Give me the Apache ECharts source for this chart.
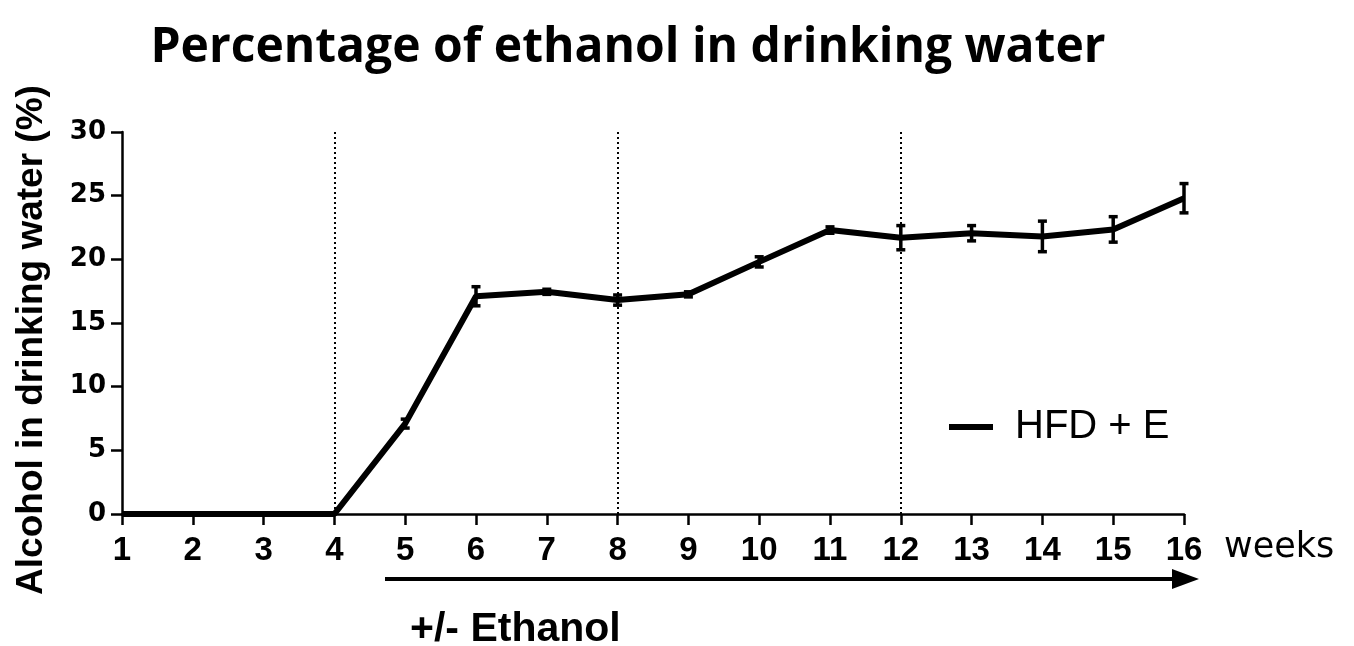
<!DOCTYPE html>
<html>
<head>
<meta charset="utf-8">
<title>Percentage of ethanol in drinking water</title>
<script src="https://cdn.jsdelivr.net/npm/echarts@6/dist/echarts.min.js"></script>
<style>
  html, body { margin: 0; padding: 0; background: #fff; }
  #chart { width: 1354px; height: 646px; }
</style>
</head>
<body>
<div id="chart"></div>
<script>
// weeks and measured alcohol % (mean with SEM)
const weeks = [1, 2, 3, 4, 5, 6, 7, 8, 9, 10, 11, 12, 13, 14, 15, 16]
const alcoholMean = [0, 0, 0, 0, 7.1, 17.1, 17.45, 16.8, 17.25, 19.8, 22.3, 21.7, 22.05, 21.8, 22.35, 24.8]
const alcoholSem = [0, 0, 0, 0, 0.35, 0.75, 0.2, 0.4, 0.2, 0.4, 0.25, 0.95, 0.6, 1.2, 1.0, 1.15]
const phaseWeeks = [4, 8, 12]
const seriesName = 'HFD + E'

const chart = echarts.init(document.getElementById('chart'))

const lineData = weeks.map((w, i) => [w, alcoholMean[i]])
const errData = weeks.map((w, i) => [w, alcoholMean[i] - alcoholSem[i], alcoholMean[i] + alcoholSem[i]])

const labelFont = 'Liberation Sans'

const option = {
  backgroundColor: '#fff',
  animation: false,
  title: {
    text: 'Percentage of ethanol in drinking water',
    left: 623,
    textAlign: 'center',
    top: 19,
    textStyle: {
      fontFamily: 'Open Sans',
      fontWeight: 'bold',
      fontSize: 48,
      color: '#000'
    }
  },
  grid: {
    left: 122,
    right: 170,
    top: 132,
    bottom: 132,
    outerBoundsMode: 'none'
  },
  legend: {
    left: 944,
    top: 402,
    itemWidth: 44,
    itemHeight: 6,
    icon: 'rect',
    data: [seriesName],
    textStyle: {
      fontFamily: labelFont,
      fontSize: 40,
      color: '#000',
      padding: [0, 0, 0, 17]
    }
  },
  xAxis: {
    type: 'value',
    min: 1,
    max: 16,
    interval: 1,
    name: 'weeks',
    nameLocation: 'end',
    nameGap: 40,
    nameTextStyle: {
      fontFamily: 'DejaVu Sans',
      fontSize: 35,
      color: '#000',
      verticalAlign: 'top',
      padding: [16, 0, 0, 0]
    },
    splitLine: { show: false },
    axisLine: { lineStyle: { color: '#000', width: 2.5 } },
    axisTick: { inside: false, length: 11, lineStyle: { color: '#000', width: 2.5 } },
    axisLabel: {
      margin: 20,
      fontFamily: labelFont,
      fontWeight: 'bold',
      fontSize: 33,
      color: '#000'
    }
  },
  yAxis: {
    type: 'value',
    min: 0,
    max: 30,
    interval: 5,
    name: 'Alcohol in drinking water (%)',
    nameLocation: 'middle',
    nameGap: 72,
    nameTextStyle: {
      fontFamily: labelFont,
      fontWeight: 'bold',
      fontSize: 37,
      color: '#000',
      padding: [0, 34, 0, 0]
    },
    splitLine: { show: false },
    axisLine: { show: true, lineStyle: { color: '#000', width: 2.5 } },
    axisTick: { show: true, inside: false, length: 11, lineStyle: { color: '#000', width: 2.5 } },
    axisLabel: {
      margin: 16,
      fontFamily: 'DejaVu Sans',
      fontWeight: 'bold',
      fontSize: 26,
      color: '#000'
    }
  },
  graphic: [
    {
      type: 'line',
      shape: { x1: 385, y1: 579, x2: 1180, y2: 579 },
      style: { stroke: '#000', lineWidth: 4 }
    },
    {
      type: 'polygon',
      shape: { points: [[1172, 569], [1199, 579], [1172, 589]] },
      style: { fill: '#000' }
    },
    {
      type: 'text',
      left: 410,
      top: 609,
      style: {
        text: '+/- Ethanol',
        fontFamily: labelFont,
        fontWeight: 'bold',
        fontSize: 41,
        fill: '#000'
      }
    }
  ],
  series: [
    {
      name: seriesName,
      type: 'line',
      data: lineData,
      symbol: 'none',
      lineStyle: { color: '#000', width: 6 },
      itemStyle: { color: '#000' },
      z: 3,
      markLine: {
        silent: true,
        symbol: 'none',
        label: { show: false },
        lineStyle: { color: '#000', type: [2, 3], width: 2 },
        data: phaseWeeks.map(w => ({ xAxis: w }))
      }
    },
    {
      name: 'sem',
      type: 'custom',
      data: errData,
      z: 4,
      renderItem: function (params, api) {
        const x = api.value(0)
        const lo = api.coord([x, api.value(1)])
        const hi = api.coord([x, api.value(2)])
        if (Math.abs(lo[1] - hi[1]) < 1) return null
        const cap = 4.5
        const style = { stroke: '#000', lineWidth: 3.5 }
        return {
          type: 'group',
          children: [
            { type: 'line', shape: { x1: lo[0], y1: lo[1], x2: hi[0], y2: hi[1] }, style: style },
            { type: 'line', shape: { x1: lo[0] - cap, y1: lo[1], x2: lo[0] + cap, y2: lo[1] }, style: style },
            { type: 'line', shape: { x1: hi[0] - cap, y1: hi[1], x2: hi[0] + cap, y2: hi[1] }, style: style }
          ]
        }
      }
    }
  ]
}

chart.setOption(option)
</script>
</body>
</html>
